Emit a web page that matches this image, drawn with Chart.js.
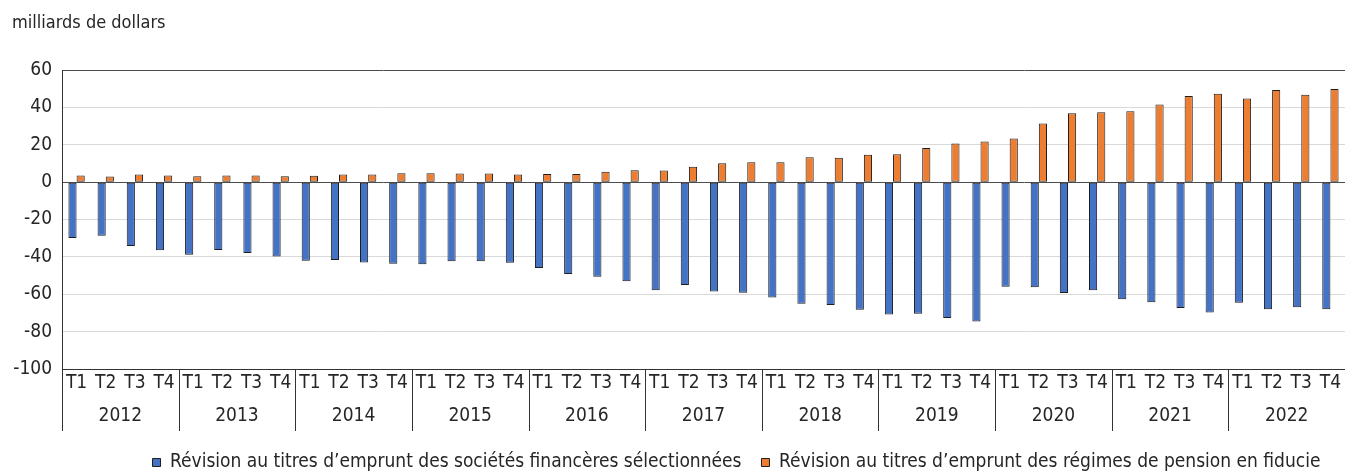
<!DOCTYPE html>
<html><head><meta charset="utf-8">
<script src="https://cdn.jsdelivr.net/npm/chart.js@4"></script>
<style>html,body{margin:0;padding:0;background:#fff}#wrap{width:1345px;height:476px}</style>
</head><body><div id="wrap"><canvas id="c" width="1345" height="476"></canvas></div>
<script>
const years = [2012, 2013, 2014, 2015, 2016, 2017, 2018, 2019, 2020, 2021, 2022];
const quarterLabels = ['T1', 'T2', 'T3', 'T4'];
const yTicks = [60, 40, 20, 0, -20, -40, -60, -80, -100];
const seriesNames = [
  'Révision au titres d’emprunt des sociétés financères sélectionnées',
  'Révision au titres d’emprunt des régimes de pension en fiducie'
];
const financieres = [-29.9, -28.7, -34.2, -36.4, -38.9, -36.3, -37.9, -39.8, -42.1, -41.7, -43.0, -43.7,
  -44.0, -42.3, -42.3, -43.1, -45.9, -49.1, -50.7, -53.0, -57.9, -55.1, -58.5, -59.2,
  -61.8, -65.1, -65.8, -68.3, -70.8, -70.4, -72.7, -74.6, -56.0, -56.2, -59.3, -57.9,
  -62.7, -64.3, -67.4, -69.7, -64.6, -68.0, -66.9, -68.0];
const pension = [3.5, 3.0, 4.1, 3.5, 3.2, 3.5, 3.5, 3.2, 3.4, 4.1, 4.1, 4.8,
  4.8, 4.6, 4.6, 4.1, 4.4, 4.3, 5.5, 6.4, 6.2, 8.2, 10.1, 10.6,
  10.6, 13.3, 13.1, 14.7, 14.9, 18.3, 20.7, 21.8, 23.4, 31.4, 36.9, 37.4,
  37.9, 41.5, 46.1, 47.3, 44.7, 49.3, 46.8, 49.8];

const categories = years.flatMap(y => quarterLabels.map(q => q));
const FONT = "'Liberation Sans Narrow', 'Arial Narrow', 'DejaVu Sans Condensed', sans-serif";
const TXT = '#262626';

const yearSep = {
  id: 'yearSep',
  afterDraw(chart) {
    const x2 = chart.scales.x2, ctx = chart.ctx, n = years.length;
    const half = (x2.getPixelForValue(1) - x2.getPixelForValue(0)) / 2;
    ctx.save();
    ctx.strokeStyle = '#333'; ctx.lineWidth = 1;
    for (let i = 0; i <= n; i++) {
      const c = i < n ? x2.getPixelForValue(i) - half : x2.getPixelForValue(n - 1) + half;
      const px = Math.round(c) + 0.5;
      ctx.beginPath();
      ctx.moveTo(px, chart.chartArea.bottom);
      ctx.lineTo(px, chart.chartArea.bottom + 62);
      ctx.stroke();
    }
    ctx.restore();
  }
};
const legendShift = {
  id: 'legendShift',
  afterLayout(chart) {
    const l = chart.legend; const dx = 58, dy = 6;
    l.left += dx; l.right += dx; l.top += dy; l.bottom += dy;
  }
};

new Chart(document.getElementById('c'), {
  type: 'bar',
  data: {
    labels: categories,
    datasets: [
      { label: seriesNames[0], data: financieres, backgroundColor: '#4472C4', borderColor: '#1e1e1e', borderWidth: 1, borderSkipped: false,
        categoryPercentage: 0.56, barPercentage: 1.0 },
      { label: seriesNames[1], data: pension, backgroundColor: '#ED7D31', borderColor: '#1e1e1e', borderWidth: 1, borderSkipped: false,
        categoryPercentage: 0.56, barPercentage: 1.0 }
    ]
  },
  options: {
    responsive: false, animation: false, devicePixelRatio: 1,
    layout: { padding: { left: 12, right: 0, top: 0, bottom: 0 } },
    plugins: {
      title: { display: true, text: 'milliards de dollars', align: 'start', color: TXT,
        font: { family: FONT, size: 18, weight: 'normal' }, padding: { top: 13, bottom: 35.4 } },
      legend: { position: 'bottom', labels: { boxWidth: 8, boxHeight: 8, padding: 20, color: TXT,
        font: { family: FONT, size: 19 } } },
      tooltip: { enabled: false }
    },
    scales: {
      x: {
        offset: true,
        grid: { display: false, drawTicks: false },
        border: { display: true, color: '#333' },
        ticks: { color: TXT, font: { family: FONT, size: 19 }, padding: 3, maxRotation: 0, autoSkip: false },
        afterFit(s) { s.height = 29; }
      },
      x2: {
        type: 'category', labels: years.map(String), position: 'bottom', offset: true,
        grid: { display: false, drawTicks: false },
        border: { display: false },
        ticks: { color: TXT, font: { family: FONT, size: 19 }, padding: 7, maxRotation: 0, autoSkip: false },
        afterFit(s) { s.height = 29; }
      },
      y: {
        min: -100, max: 60,
        afterBuildTicks(s) { s.ticks = yTicks.map(v => ({ value: v })); },
        grid: { drawTicks: false, color: c => ([60, 0, -100].includes(c.tick.value) ? '#4d4d4d' : '#d9d9d9'), lineWidth: 1 },
        border: { display: true, color: '#333' },
        ticks: { color: TXT, font: { family: FONT, size: 19 }, padding: 10 },
        afterFit(s) { s.width = 50; }
      }
    }
  },
  plugins: [yearSep, legendShift]
});
</script></body></html>
